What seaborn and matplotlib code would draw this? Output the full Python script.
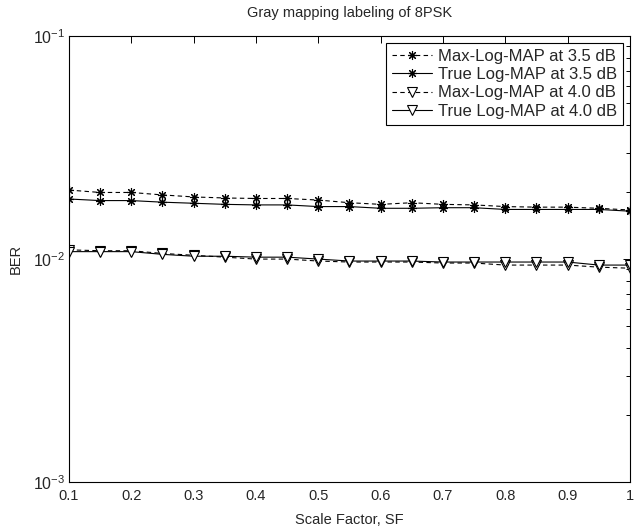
import numpy as np
import pandas as pd
import matplotlib
matplotlib.use("Agg")
import matplotlib.pyplot as plt
import matplotlib.ticker as mticker
import seaborn as sns

sf = [0.10, 0.15, 0.20, 0.25, 0.30, 0.35, 0.40, 0.45, 0.50, 0.55,
      0.60, 0.65, 0.70, 0.75, 0.80, 0.85, 0.90, 0.95, 1.00]
max_35 = [0.0204, 0.0199, 0.0199, 0.0194, 0.0190, 0.0188, 0.0187, 0.0187, 0.0184, 0.0179,
          0.0176, 0.0179, 0.0176, 0.0175, 0.0172, 0.0171, 0.0171, 0.0169, 0.0166]
true_35 = [0.0186, 0.0183, 0.0183, 0.0180, 0.0178, 0.0176, 0.0175, 0.0175, 0.0172, 0.0172,
           0.0169, 0.0169, 0.0170, 0.0170, 0.0167, 0.0167, 0.0167, 0.0167, 0.0164]
max_40 = [0.0110, 0.0109, 0.0109, 0.0106, 0.0104, 0.0102, 0.0100, 0.0100, 0.0098, 0.0097,
          0.0097, 0.0097, 0.0096, 0.0096, 0.0094, 0.0094, 0.0094, 0.0092, 0.0091]
true_40 = [0.0108, 0.0108, 0.0108, 0.0105, 0.0103, 0.0103, 0.0102, 0.0102, 0.0100, 0.0098,
           0.0098, 0.0098, 0.0097, 0.0097, 0.0097, 0.0097, 0.0097, 0.0094, 0.0094]
labels = ["Max-Log-MAP at 3.5 dB", "True Log-MAP at 3.5 dB",
          "Max-Log-MAP at 4.0 dB", "True Log-MAP at 4.0 dB"]
x_ticks = [0.1, 0.2, 0.3, 0.4, 0.5, 0.6, 0.7, 0.8, 0.9, 1.0]
x_tick_labels = ["0.1", "0.2", "0.3", "0.4", "0.5", "0.6", "0.7", "0.8", "0.9", "1"]

sns.set_style("white")
plt.rcParams["font.family"] = ["Liberation Sans", "DejaVu Sans"]
plt.rcParams["font.size"] = 10
plt.rcParams["mathtext.default"] = "regular"

fig = plt.figure(figsize=(6.36, 5.32), dpi=100)
ax = fig.add_axes([0.1085, 0.094, 0.882, 0.838])

asterisk = (8, 2, 0)
styles = [
    dict(linestyle=(0, (4, 3)), marker=asterisk, markersize=6.5),
    dict(linestyle="-", marker=asterisk, markersize=6.5),
    dict(linestyle=(0, (4, 3)), marker="v", markersize=7, markerfacecolor="white"),
    dict(linestyle="-", marker="v", markersize=7, markerfacecolor="white"),
]
for vals, lab, st in zip([max_35, true_35, max_40, true_40], labels, styles):
    df = pd.DataFrame({"SF": sf, "BER": vals})
    sns.lineplot(data=df, x="SF", y="BER", ax=ax, color="black", linewidth=0.8,
                 markeredgecolor="black", markeredgewidth=0.8, label=lab, **st)

ax.set_yscale("log")
ax.set_xlim(0.1, 1.0)
ax.set_ylim(1e-3, 1e-1)
ax.set_xticks(x_ticks)
ax.set_xticklabels(x_tick_labels)
ax.yaxis.set_major_locator(mticker.LogLocator(base=10, numticks=10))
ax.yaxis.set_minor_locator(mticker.LogLocator(base=10, subs=np.arange(2, 10), numticks=10))
ax.yaxis.set_minor_formatter(mticker.NullFormatter())
ax.tick_params(which="both", direction="in", top=True, right=True, color="black", width=0.7)
ax.tick_params(which="major", length=5)
ax.tick_params(which="minor", length=3)
ax.tick_params(axis="x", which="major", labelsize=10.5, pad=5)
ax.tick_params(axis="y", which="major", labelsize=11.5, pad=3)
for s in ax.spines.values():
    s.set_color("black")
    s.set_linewidth(0.8)

ax.set_xlabel("Scale Factor, SF", fontsize=10.5, labelpad=7)
ax.set_ylabel("BER", fontsize=10.5, labelpad=7)
ax.set_title("Gray mapping labeling of 8PSK", fontsize=10.5, pad=14)

leg = ax.legend(loc="upper right", frameon=True, fancybox=False, edgecolor="black",
                framealpha=1, fontsize=12, handlelength=2.4, borderpad=0.35,
                labelspacing=0.2, handletextpad=0.4, borderaxespad=0.4)
leg.get_frame().set_linewidth(0.8)

fig.savefig("out.png", dpi=100, facecolor="white")
